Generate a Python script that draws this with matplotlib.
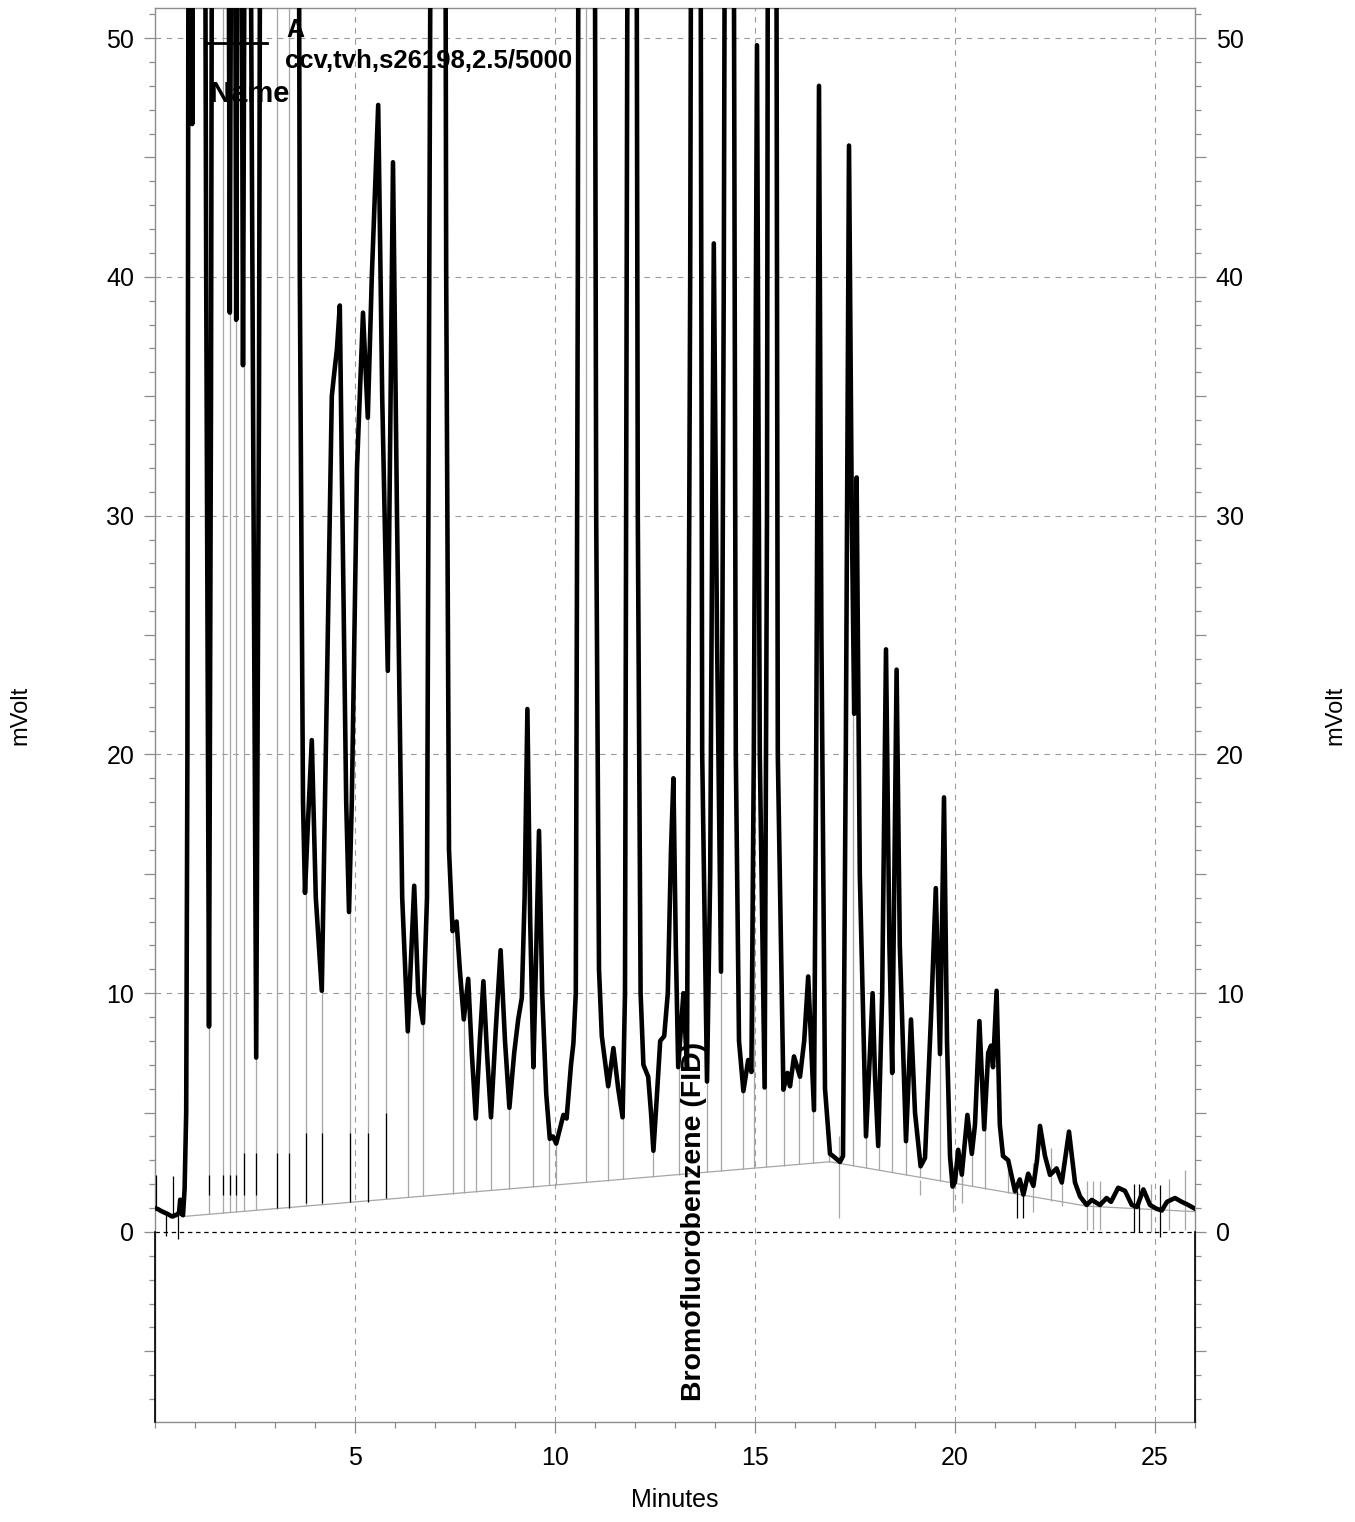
import matplotlib
matplotlib.use('Agg')
import matplotlib.pyplot as plt
import numpy as np
from matplotlib.ticker import MultipleLocator, FixedLocator, FuncFormatter

plt.rcParams['font.family'] = ['Liberation Sans', 'DejaVu Sans']

# ---------------- data ----------------
# chromatogram trace: time (min), signal (mVolt); off-scale apexes clipped by the axes
trace_t = [0.00, 0.08, 0.15, 0.25, 0.32, 0.42, 0.52, 0.60, 0.63, 0.66, 0.70, 0.74, 0.78, 0.81, 0.84,
           0.90, 0.93, 0.96, 1.20, 1.28, 1.35, 1.40, 1.46, 1.69, 1.80, 1.87, 1.93, 1.98, 2.03, 2.09,
           2.14, 2.20, 2.27, 2.35, 2.45, 2.53, 2.60, 2.67, 3.05, 3.35, 3.55, 3.62, 3.70, 3.75, 3.82,
           3.92, 4.02, 4.17, 4.27, 4.42, 4.47, 4.55, 4.62, 4.67, 4.78, 4.85, 4.92, 5.05, 5.20, 5.32,
           5.42, 5.58, 5.68, 5.82, 5.95, 6.05, 6.18, 6.32, 6.40, 6.48, 6.58, 6.70, 6.80, 6.90, 6.95,
           7.22, 7.28, 7.35, 7.44, 7.54, 7.62, 7.72, 7.83, 7.92, 8.02, 8.12, 8.21, 8.30, 8.40, 8.52,
           8.64, 8.75, 8.86, 8.98, 9.08, 9.17, 9.24, 9.31, 9.38, 9.46, 9.52, 9.60, 9.68, 9.78, 9.87,
           9.95, 10.03, 10.12, 10.21, 10.29, 10.40, 10.46, 10.52, 10.57, 10.62, 10.78, 10.95, 11.03, 11.10, 11.17,
           11.33, 11.46, 11.58, 11.69, 11.75, 11.82, 11.88, 12.00, 12.07, 12.14, 12.21, 12.33, 12.40, 12.46, 12.54,
           12.63, 12.73, 12.82, 12.90, 12.96, 13.02, 13.08, 13.21, 13.30, 13.38, 13.45, 13.60, 13.68, 13.80, 13.88,
           13.97, 14.05, 14.15, 14.22, 14.30, 14.42, 14.52, 14.60, 14.71, 14.83, 14.91, 14.97, 15.05, 15.12, 15.24,
           15.30, 15.35, 15.50, 15.57, 15.71, 15.81, 15.875, 15.975, 16.125, 16.23, 16.33, 16.40, 16.475, 16.53, 16.60,
           16.66, 16.75, 16.875, 16.95, 17.125, 17.20, 17.27, 17.35, 17.42, 17.48, 17.54, 17.62, 17.775, 17.86, 17.94,
           18.00, 18.08, 18.18, 18.275, 18.36, 18.43, 18.54, 18.62, 18.775, 18.90, 19.00, 19.14, 19.25, 19.40, 19.52,
           19.625, 19.725, 19.80, 19.875, 19.94, 20.00, 20.08, 20.17, 20.31, 20.42, 20.50, 20.61, 20.73, 20.83, 20.90,
           20.95, 21.04, 21.12, 21.20, 21.33, 21.50, 21.62, 21.71, 21.83, 21.96, 22.05, 22.125, 22.25, 22.375, 22.54,
           22.67, 22.85, 23.00, 23.125, 23.29, 23.42, 23.625, 23.79, 23.90, 24.08, 24.25, 24.42, 24.55, 24.71, 24.875,
           25.04, 25.17, 25.30, 25.50, 25.67, 25.83, 26.00]
trace_mv = [1.00, 0.95, 0.88, 0.80, 0.75, 0.65, 0.70, 0.80, 1.35, 0.75, 0.70, 1.80, 5.0, 20.0, 60.0,
            90.0, 46.4, 90.0, 90.0, 40.0, 8.6, 35.0, 90.0, 70.0, 80.0, 38.5, 70.0, 70.0, 38.2, 70.0,
            70.0, 36.3, 70.0, 70.0, 35.0, 7.3, 35.0, 90.0, 70.0, 70.0, 90.0, 40.0, 18.0, 14.2, 17.0,
            20.6, 14.0, 10.1, 20.0, 35.0, 35.8, 37.0, 38.8, 32.0, 18.0, 13.4, 18.0, 32.0, 38.5, 34.1,
            40.0, 47.2, 35.0, 23.5, 44.8, 30.0, 14.0, 8.4, 11.5, 14.5, 10.0, 8.75, 14.0, 60.0, 90.0,
            90.0, 40.0, 16.0, 12.6, 13.0, 11.0, 8.9, 10.6, 7.5, 4.75, 8.0, 10.5, 7.5, 4.8, 8.5,
            11.8, 8.0, 5.2, 7.5, 8.9, 9.8, 14.0, 21.9, 13.0, 6.9, 11.0, 16.8, 10.0, 5.8, 3.9,
            4.0, 3.7, 4.3, 4.9, 4.75, 7.0, 7.9, 10.0, 40.0, 90.0, 70.0, 90.0, 30.0, 11.0, 8.2,
            6.1, 7.7, 6.0, 4.8, 10.0, 60.0, 90.0, 90.0, 30.0, 10.0, 7.0, 6.5, 5.0, 3.4, 5.5,
            8.0, 8.2, 10.0, 16.0, 19.0, 12.0, 6.9, 10.0, 6.9, 40.0, 90.0, 90.0, 20.0, 6.3, 15.0,
            41.4, 25.0, 10.9, 40.0, 90.0, 90.0, 20.0, 8.0, 5.9, 7.2, 6.7, 20.0, 49.7, 20.0, 6.05,
            30.0, 90.0, 90.0, 20.0, 5.96, 6.66, 6.1, 7.35, 6.5, 8.0, 10.7, 8.0, 5.1, 20.0, 48.0,
            25.0, 6.0, 3.27, 3.18, 2.93, 3.18, 20.0, 45.5, 30.0, 21.7, 31.6, 15.0, 4.0, 7.0, 10.0,
            6.5, 3.6, 10.0, 24.4, 12.0, 6.66, 23.55, 12.0, 3.8, 8.9, 5.0, 2.75, 3.1, 9.0, 14.4,
            7.45, 18.2, 8.0, 3.18, 1.9, 2.1, 3.44, 2.4, 4.9, 3.27, 4.5, 8.83, 4.3, 7.5, 7.8,
            6.9, 10.1, 4.5, 3.18, 3.0, 1.7, 2.2, 1.56, 2.44, 1.93, 3.0, 4.44, 3.18, 2.39, 2.66,
            2.07, 4.2, 2.07, 1.49, 1.13, 1.34, 1.13, 1.42, 1.26, 1.85, 1.72, 1.13, 1.05, 1.78, 1.13,
            0.97, 0.90, 1.26, 1.42, 1.26, 1.13, 0.97]

# integration baseline (grey polyline)
baseline_t = [0.72, 16.875, 23.30, 26.00]
baseline_mv = [0.65, 2.94, 1.08, 0.85]

# peak boundary drop lines (grey), minutes
drop_t = [1.36, 1.71, 1.88, 2.03, 2.23, 2.53, 3.05, 3.35, 3.77, 4.18, 4.88, 5.33, 5.78, 6.32, 6.70,
          7.44, 7.72, 8.02, 8.40, 8.86, 9.46, 9.86, 10.03, 10.78, 11.33, 11.69, 12.46, 13.10, 13.80,
          14.15, 14.71, 14.98, 15.27, 15.73, 16.11, 16.46, 16.85, 17.11, 17.46, 17.78, 18.10, 18.43,
          18.78, 19.13, 19.625, 19.94, 20.18, 20.43, 20.75, 21.33, 21.56, 21.71]

# short peak-start/end markers: time, lower mV, upper mV
mark_black_t = [0.02, 0.28, 0.45, 0.58, 1.36, 1.71, 1.88, 2.03, 2.23, 2.53, 3.05, 3.35, 3.78, 4.18,
                4.88, 5.33, 5.78, 21.56, 21.71, 24.47, 24.59, 25.12]
mark_black_lo = [0.9, -0.15, 0.6, -0.3, 1.55, 1.55, 1.55, 1.55, 1.55, 1.55, 1.0, 1.0, 1.2, 1.2,
                 1.27, 1.27, 1.41, 0.6, 0.6, 0.0, 0.0, -0.2]
mark_black_hi = [2.4, 0.75, 2.35, 0.7, 2.4, 2.4, 2.4, 2.4, 3.3, 3.3, 3.3, 3.3, 4.13, 4.13,
                 4.13, 4.13, 4.97, 1.7, 1.7, 2.0, 2.0, 1.96]
mark_grey_t = [17.11, 19.13, 19.94, 20.18, 21.94, 22.39, 22.68, 23.31, 23.46, 23.625, 24.90, 25.36, 25.76]
mark_grey_lo = [0.58, 1.55, 0.85, 1.2, 0.84, 1.3, 1.1, 0.09, 0.09, 0.09, 0.0, 0.1, 0.1]
mark_grey_hi = [4.0, 2.18, 2.7, 2.5, 2.9, 3.5, 2.9, 2.15, 2.15, 2.15, 2.0, 2.2, 2.6]

peak_label = 'Bromofluorobenzene (FID)'
peak_label_t = 13.48

x_ticks = [5, 10, 15, 20, 25]
y_grid = [10, 20, 30, 40, 50]

# ---------------- figure ----------------
W, H = 1355, 1522
fig = plt.figure(figsize=(W / 100, H / 100), dpi=100)
ax = fig.add_axes([155 / W, 1 - 1422 / H, 1040 / W, 1414 / H])
ax.set_xlim(0, 26)
ax.set_ylim(-7.96, 51.26)

grey = '#a6a6a6'
# grid
for g in x_ticks:
    ax.axvline(g, color='#9a9a9a', lw=0.8, ls=(0, (5, 5)), zorder=0)
for g in y_grid:
    ax.axhline(g, color='#9a9a9a', lw=0.8, ls=(0, (5, 5)), zorder=0)
ax.axhline(0, color='black', lw=0.9, ls=(0, (3.5, 3)), zorder=1)

# baseline and drop lines
ax.plot(baseline_t, baseline_mv, color=grey, lw=0.9, zorder=2)
dt = np.array(drop_t)
ax.vlines(dt, np.interp(dt, baseline_t, baseline_mv), np.interp(dt, trace_t, trace_mv),
          color=grey, lw=0.9, zorder=2)
ax.vlines(mark_grey_t, mark_grey_lo, mark_grey_hi, color=grey, lw=0.9, zorder=2)
ax.vlines(mark_black_t, mark_black_lo, mark_black_hi, color='black', lw=0.9, zorder=3)

# trace
ax.plot(trace_t, trace_mv, color='black', lw=3.3, solid_joinstyle='round',
        solid_capstyle='round', zorder=4)

# peak name
ax.text(peak_label_t, -7.1, peak_label, rotation=90, ha='center', va='bottom',
        fontsize=20.5, fontweight='bold', zorder=5)

# axes styling
for s in ax.spines.values():
    s.set_color('#8c8c8c')
    s.set_linewidth(1.0)
ax.plot([0, 0], [-7.96, 0], color='black', lw=1.2, clip_on=False, zorder=6)
ax.plot([26, 26], [-7.96, 0], color='black', lw=1.2, clip_on=False, zorder=6)

ax.xaxis.set_major_locator(FixedLocator(x_ticks))
ax.xaxis.set_minor_locator(MultipleLocator(1))
ax.yaxis.set_major_locator(MultipleLocator(5))
ax.yaxis.set_minor_locator(MultipleLocator(1))
ax.yaxis.set_major_formatter(FuncFormatter(lambda v, p: f'{int(round(v))}' if round(v) % 10 == 0 else ''))
ax.tick_params(axis='y', which='major', length=8, width=0.9, color='#8c8c8c', labelsize=18,
               left=True, right=True, labelleft=True, labelright=True, pad=7)
ax.tick_params(axis='y', which='minor', length=4, width=0.9, color='#8c8c8c', left=True, right=True)
ax.tick_params(axis='x', which='major', length=8, width=0.9, color='#8c8c8c', labelsize=18, pad=9)
ax.tick_params(axis='x', which='minor', length=4, width=0.9, color='#8c8c8c')
for tk in ax.yaxis.get_major_ticks() + ax.yaxis.get_minor_ticks():
    if tk.get_loc() < 0:
        tk.tick1line.set_color('black')
        tk.tick2line.set_color('black')

# axis titles
fig.text(20 / W, 1 - 715 / H, 'mVolt', rotation=90, ha='center', va='center', fontsize=17)
fig.text(1335 / W, 1 - 715 / H, 'mVolt', rotation=90, ha='center', va='center', fontsize=17)
fig.text(675 / W, 1 - 1500 / H, 'Minutes', ha='center', va='center', fontsize=18)

# legend block
fig.add_artist(plt.Line2D([207 / W, 267 / W], [1 - 43 / H, 1 - 43 / H], color='black', lw=2.0))
fig.text(286 / W, 1 - 37 / H, 'A', ha='left', va='baseline', fontsize=18, fontweight='bold')
fig.text(285 / W, 1 - 68 / H, 'ccv,tvh,s26198,2.5/5000', ha='left', va='baseline',
         fontsize=18.5, fontweight='bold')
fig.text(210 / W, 1 - 102 / H, 'Name', ha='left', va='baseline', fontsize=21, fontweight='bold')

fig.savefig('out.png', dpi=100)
